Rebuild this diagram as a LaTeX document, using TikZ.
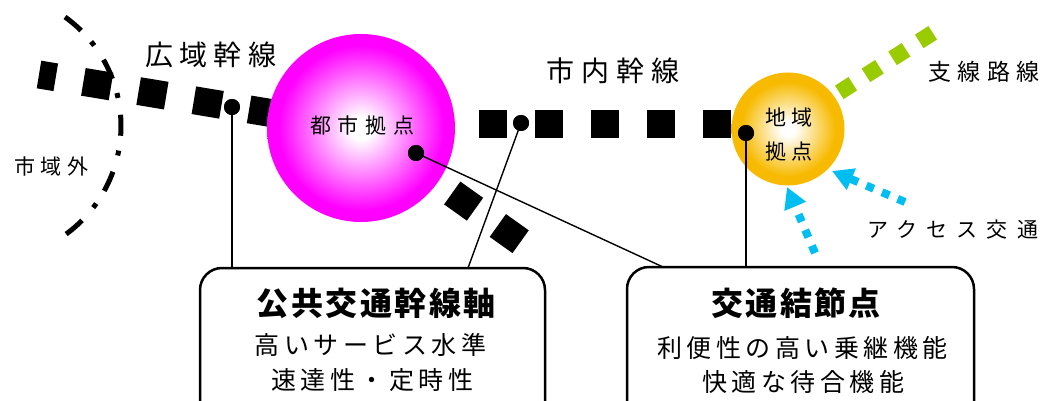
\documentclass[tikz,border=0pt]{standalone}
\usepackage{fontspec}
\setmainfont{Noto Sans CJK JP}
\usetikzlibrary{arrows.meta}
\newcommand\lstext[3]{{\fontsize{#1pt}{#1pt}\selectfont\addfontfeatures{LetterSpace=#2}#3\kern-\dimexpr #1pt*#2/100\relax}}
\definecolor{pinkc}{RGB}{255,0,255}
\definecolor{yellowc}{RGB}{247,186,0}
\definecolor{greenc}{RGB}{153,204,0}
\definecolor{cyanc}{RGB}{0,190,242}
\pgfdeclareradialshading{pinkball}{\pgfpoint{0bp}{0bp}}{color(0bp)=(white); color(3bp)=(white); color(22bp)=(pinkc); color(25bp)=(pinkc); color(50bp)=(pinkc)}
\pgfdeclareradialshading{yellowball}{\pgfpoint{0bp}{0bp}}{color(0bp)=(white); color(3bp)=(white); color(21bp)=(yellowc); color(25bp)=(yellowc); color(50bp)=(yellowc)}
\tikzset{
  mainline/.style={line width=28pt, dash pattern=on 28pt off 28pt},
  greenline/.style={line width=16pt, color=greenc, dash pattern=on 16pt off 15.6pt},
  cyanarrow/.style={line width=8pt, color=cyanc, dash pattern=on 8pt off 9pt, -{Triangle[length=21pt,width=22pt]}},
  boundary/.style={line width=5pt, dash pattern=on 21pt off 15pt on 5pt off 17pt},
  dotnode/.style={circle, fill=black, inner sep=0pt, minimum size=16pt},
  conn/.style={line width=1.4pt},
  callout/.style={draw, fill=white, line width=2.5pt, rounded corners=22pt, inner sep=0pt},
  lbl/.style={inner sep=0pt, anchor=center},
}
\begin{document}
\begin{tikzpicture}[x=1pt,y=-1pt]
\useasboundingbox (0,0) rectangle (1044,401);
\clip (0,0) rectangle (1044,401);
% key points
\coordinate (cityc) at (361,128);
\coordinate (locc) at (788,129);
\coordinate (w0) at (39,74.5);
\coordinate (m0) at (367,124);
\coordinate (m1) at (788,124);
\coordinate (dgEnd) at (521,242);
\coordinate (g0) at (788,125);
\coordinate (g1) at (932.7,32.8);
\coordinate (a1s) at (905,202);
\coordinate (a1e) at (832,171);
\coordinate (a2s) at (815,253);
\coordinate (a2e) at (787,187);
\coordinate (bd0) at (65,17);
% city boundary
\draw[boundary] (bd0) arc[start angle=-54.4, end angle=54.4, radius=134];
% trunk lines
\draw[mainline, dash phase=11pt] (w0) -- (cityc);
\draw[mainline] (m0) -- (m1);
\draw[mainline] (cityc) -- (dgEnd);
\draw[greenline, dash phase=2.4pt] (g0) -- (g1);
\draw[cyanarrow] (a1s) -- (a1e);
\draw[cyanarrow] (a2s) -- (a2e);
% hubs
\node[circle, minimum size=188pt, inner sep=0pt, shade, shading=pinkball] (city) at (cityc) {};
\node[circle, minimum size=113pt, inner sep=0pt, shade, shading=yellowball] (loc) at (locc) {};
\node[lbl] (citylbl) at (359,125) {\lstext{21}{32}{都市拠点}};
\node[lbl, align=center, font=\fontsize{21pt}{34pt}\selectfont] (loclbl) at (786,135) {\lstext{21}{28}{地域}\\\lstext{21}{28}{拠点}};
% callout boxes
\node[callout, minimum width=345pt, minimum height=170pt] (b1) at (372.5,353) {};
\node[callout, minimum width=347pt, minimum height=170pt] (b2) at (800.5,352) {};
% dots and connectors
\node[dotnode] (d1) at (232,107) {};
\node[dotnode] (d2) at (521,123) {};
\node[dotnode] (d3) at (416,153) {};
\node[dotnode] (d4) at (746,133) {};
\coordinate (e2) at (468,268);
\coordinate (e3) at (663,267);
\draw[conn] (d1.center) -- (d1.center |- b1.north);
\draw[conn] (d2.center) -- (e2);
\draw[conn] (d3.center) -- (e3);
\draw[conn] (d4.center) -- (d4.center |- b2.north);
\node[dotnode] at (d1) {};
\node[dotnode] at (d2) {};
\node[dotnode] at (d3) {};
\node[dotnode] at (d4) {};
% labels
\node[lbl] (wide) at (207.5,55) {\lstext{28}{23}{広域幹線}};
\node[lbl] (inner) at (609,71) {\lstext{28}{25}{市内幹線}};
\node[lbl] (outside) at (48.5,166) {\lstext{21}{28}{市域外}};
\node[lbl, font=\fontsize{23pt}{23pt}\selectfont] (branch) at (984,72) {支\hspace{6.6pt}線\hspace{6.6pt}路\hspace{6.6pt}線};
\node[lbl] (access) at (948,230) {\lstext{21}{44}{アクセス交通}};
% box texts
\node[lbl, font=\bfseries] (t1) at (375,303) {\lstext{32}{8}{公共交通幹線軸}};
\node[lbl] (s1a) at (368,345) {\lstext{25}{18}{高いサービス水準}};
\node[lbl] (s1b) at (370,380) {\lstext{25}{18}{速達性・定時性}};
\node[lbl, font=\bfseries] (t2) at (795,303) {\lstext{32}{7}{交通結節点}};
\node[lbl] (s2a) at (800,348) {\lstext{25}{18}{利便性の高い乗継機能}};
\node[lbl] (s2b) at (801,382) {\lstext{25}{18}{快適な待合機能}};
\end{tikzpicture}
\end{document}
